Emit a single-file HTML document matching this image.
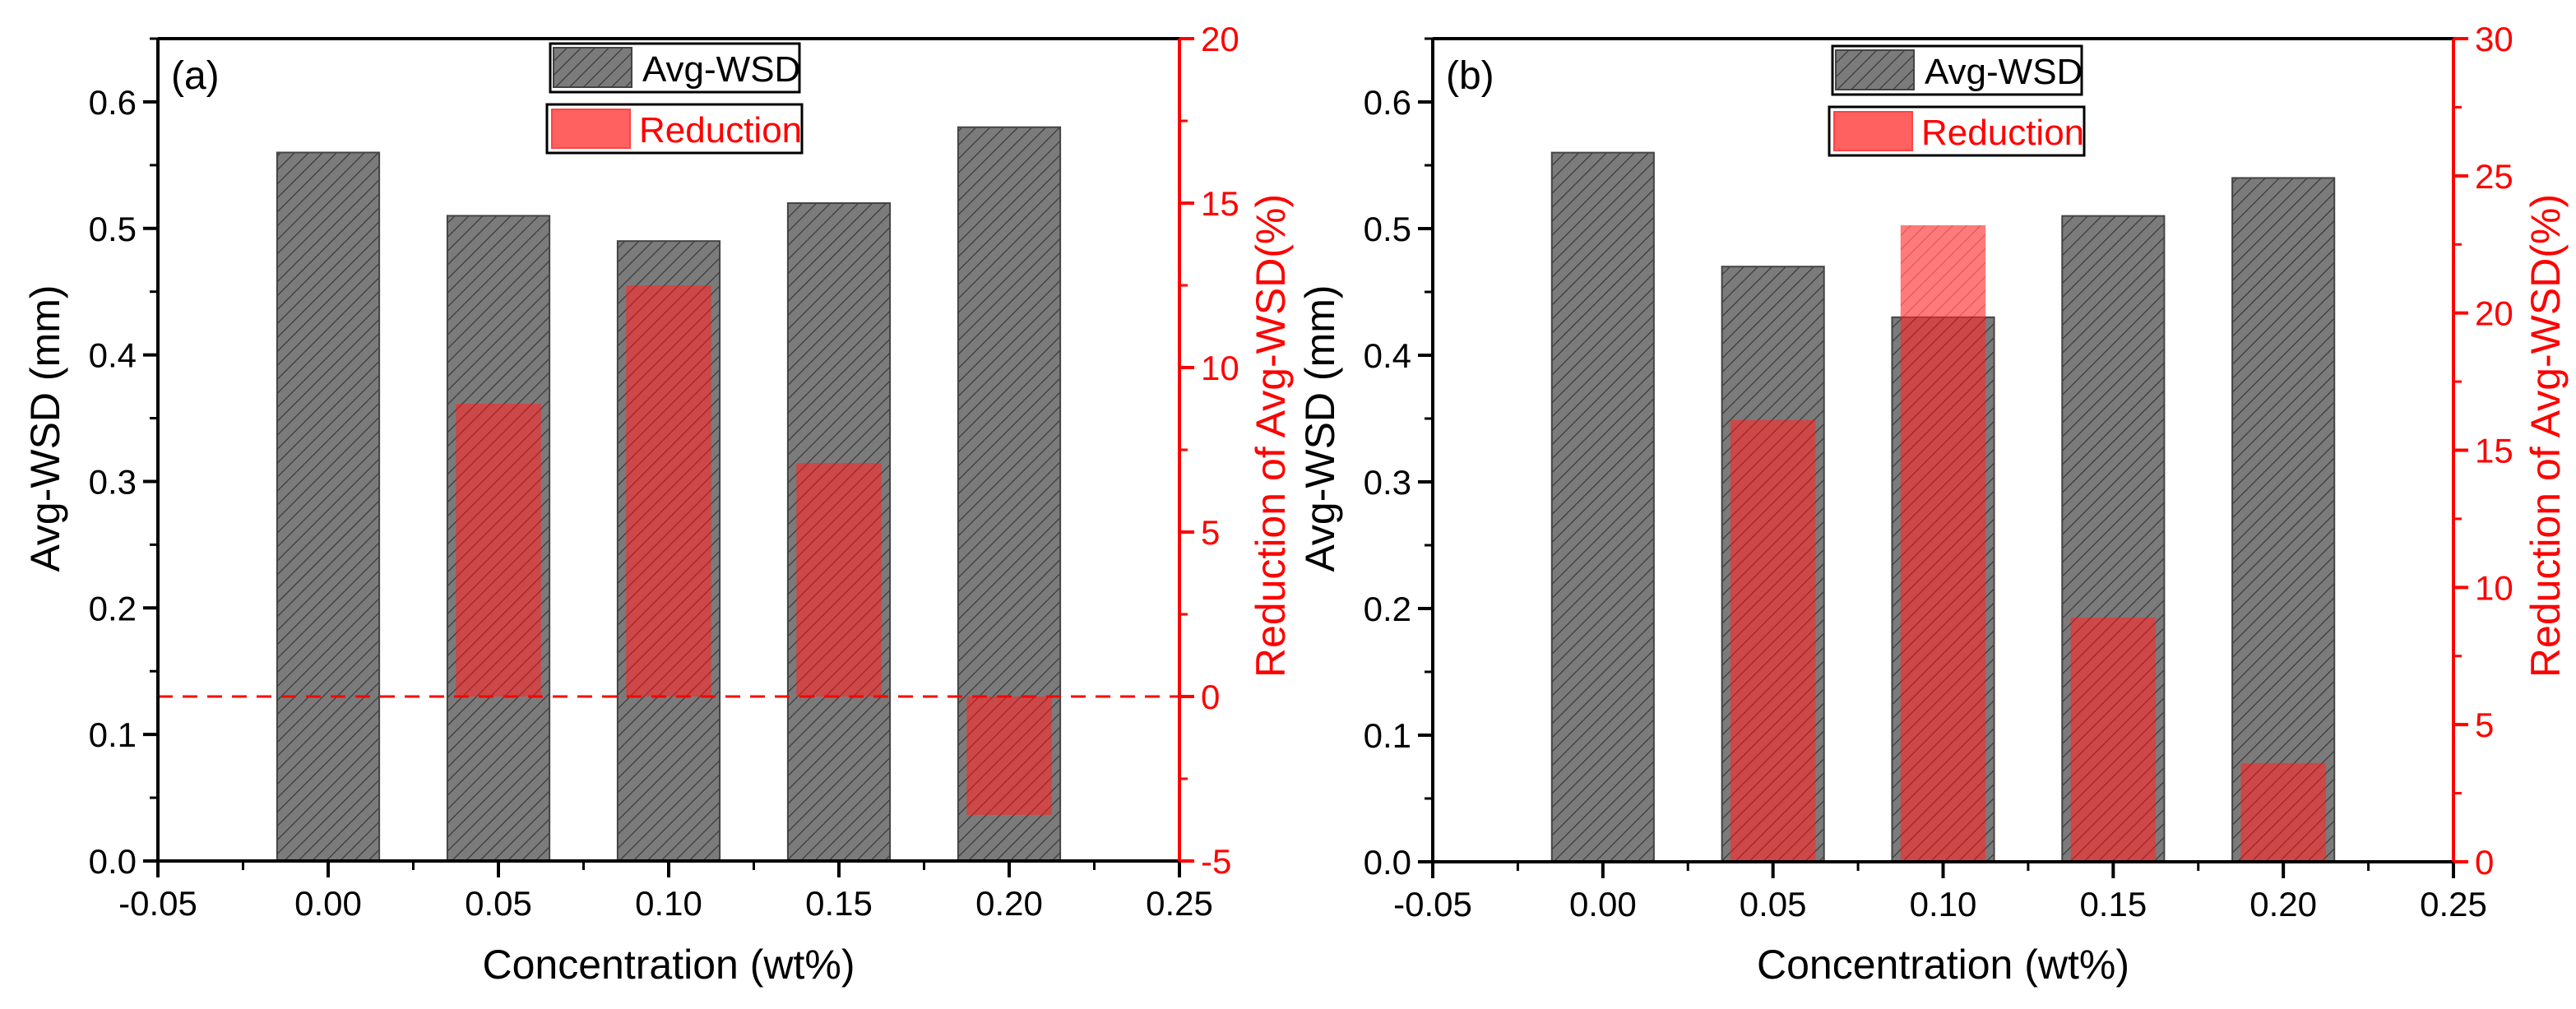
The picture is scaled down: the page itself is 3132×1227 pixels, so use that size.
<!DOCTYPE html>
<html><head><meta charset="utf-8">
<style>
html,body{margin:0;padding:0;background:#fff;}
svg{display:block;font-family:"Liberation Sans",Arial,sans-serif;}
</style></head>
<body>
<svg id="chart" width="3132" height="1227" viewBox="0 0 3132 1227" xmlns="http://www.w3.org/2000/svg">
<defs>
<pattern id="hatch" patternUnits="userSpaceOnUse" width="12" height="12" patternTransform="rotate(45)">
<rect width="12" height="12" fill="#7b7b7b"/>
<line x1="0" y1="0" x2="0" y2="12" stroke="#3a3a3a" stroke-width="2.5"/>
</pattern>
<pattern id="hatchR" patternUnits="userSpaceOnUse" width="12" height="12" patternTransform="rotate(45)">
<rect width="12" height="12" fill="rgba(255,40,40,0.62)"/>
<line x1="0" y1="0" x2="0" y2="12" stroke="rgba(120,0,0,0.25)" stroke-width="2.5"/>
</pattern>
</defs>
</svg>
<script>
const categories = [0.00, 0.05, 0.10, 0.15, 0.20];
const wsdA = [0.56, 0.51, 0.49, 0.52, 0.58];
const redA = [null, 8.9, 12.5, 7.1, -3.6];
const wsdB = [0.56, 0.47, 0.43, 0.51, 0.54];
const redB = [null, 16.1, 23.2, 8.9, 3.6];
const xTicks = ["-0.05","0.00","0.05","0.10","0.15","0.20","0.25"];
const yTicks = ["0.0","0.1","0.2","0.3","0.4","0.5","0.6"];
const rTicksA = ["-5","0","5","10","15","20"];
const rTicksB = ["0","5","10","15","20","25","30"];

const NS = "http://www.w3.org/2000/svg";
const svg = document.getElementById('chart');
function mk(tag, attrs, parent, text){
  const e = document.createElementNS(NS, tag);
  for (const k in attrs) e.setAttribute(k, attrs[k]);
  if (text !== undefined) e.textContent = text;
  (parent||svg).appendChild(e);
  return e;
}

function panel(o){
  const g = mk('g', {});
  
  
  const x = v => o.x0 + (v + 0.05) / 0.30 * (o.x1 - o.x0);
  const y = v => o.yb - v / 0.65 * (o.yb - o.yt);
  const yr = v => o.yb - (v - o.rmin) / (o.rmax - o.rmin) * (o.yb - o.yt);
  // gray bars
  categories.forEach((c, i) => {
    const r = mk('rect', {x: x(c - 0.015), y: y(o.wsd[i]), width: x(0.015) - x(-0.015), height: o.yb - y(o.wsd[i]), fill: 'url(#hatch)', stroke: '#444', 'stroke-width': 2}, g);
    
    
  });
  // red bars
  categories.forEach((c, i) => {
    const v = o.red[i];
    if (v === null) return;
    const top = Math.min(yr(v), yr(0)), bot = Math.max(yr(v), yr(0));
    const r = mk('rect', {x: x(c - 0.0125), y: top, width: x(0.0125) - x(-0.0125), height: bot - top, fill: 'url(#hatchR)'}, g);
    
    
  });
  if (o.dash) {
    const d = mk('line', {x1: o.x0, x2: o.x1, y1: yr(0), y2: yr(0), stroke: '#f00', 'stroke-width': 3, 'stroke-dasharray': '18,12'}, g);
    
    
  }
  // axes
  mk('line', {x1: o.x0, x2: o.x1, y1: o.yt, y2: o.yt, stroke: '#000', 'stroke-width': 4}, g);
  mk('line', {x1: o.x0 - 18, x2: o.x1, y1: o.yb, y2: o.yb, stroke: '#000', 'stroke-width': 4}, g);
  mk('line', {x1: o.x0, x2: o.x0, y1: o.yt, y2: o.yb + 20, stroke: '#000', 'stroke-width': 4}, g);
  mk('line', {x1: o.x1, x2: o.x1, y1: o.yt, y2: o.yb, stroke: '#f00', 'stroke-width': 4}, g);
  // x ticks
  xTicks.forEach((t, i) => {
    const v = -0.05 + i * 0.05, px = x(v);
    mk('line', {x1: px, x2: px, y1: o.yb, y2: o.yb + 20, stroke: '#000', 'stroke-width': 4}, g);
    if (i < xTicks.length - 1) { const m = x(v + 0.025); mk('line', {x1: m, x2: m, y1: o.yb, y2: o.yb + 11, stroke: '#000', 'stroke-width': 3}, g); }
    const tl = mk('text', {x: px, y: o.yb + 66, 'font-size': 42, 'text-anchor': 'middle', fill: '#000'}, g, t);
    
    
  });
  // left y ticks
  yTicks.forEach((t, i) => {
    const v = i * 0.1, py = y(v);
    mk('line', {x1: o.x0 - 18, x2: o.x0, y1: py, y2: py, stroke: '#000', 'stroke-width': 4}, g);
    const m = y(v + 0.05); mk('line', {x1: o.x0 - 10, x2: o.x0, y1: m, y2: m, stroke: '#000', 'stroke-width': 3}, g);
    const tl = mk('text', {x: o.x0 - 26, y: py + 15, 'font-size': 42, 'text-anchor': 'end', fill: '#000'}, g, t);
    
    
  });
  // right ticks
  o.rt.forEach((t, i) => {
    const v = parseFloat(t), py = yr(v);
    mk('line', {x1: o.x1, x2: o.x1 + 18, y1: py, y2: py, stroke: '#f00', 'stroke-width': 4}, g);
    if (i < o.rt.length - 1) { const m = yr(v + 2.5); mk('line', {x1: o.x1, x2: o.x1 + 10, y1: m, y2: m, stroke: '#f00', 'stroke-width': 3}, g); }
    const tl = mk('text', {x: o.x1 + 26, y: py + 15, 'font-size': 42, fill: '#f00'}, g, t);
    
    
  });
  // titles
  const xt = mk('text', {x: (o.x0 + o.x1) / 2, y: 1190, 'font-size': 50, 'text-anchor': 'middle', fill: '#000'}, g, 'Concentration (wt%)');
  
  
  const yt = mk('text', {x: 0, y: 0, 'font-size': 50, 'text-anchor': 'middle', fill: '#000', transform: `translate(${o.ylx},521) rotate(-90)`}, g, 'Avg-WSD (mm)');
  
  
  const rt = mk('text', {x: 0, y: 0, 'font-size': 50, 'text-anchor': 'middle', fill: '#f00', transform: `translate(${o.yrx},530) rotate(-90)`}, g, 'Reduction of Avg-WSD(%)');
  
  
  const pl = mk('text', {x: o.x0 + 16, y: 108, 'font-size': 48, fill: '#000'}, g, o.label);
  
  
  // legend
  const L = o.lx;
  const l1 = mk('g', {}, g);
  
  
  mk('rect', {x: L, y: o.ly, width: 303, height: 59, fill: '#fff', stroke: '#000', 'stroke-width': 3}, l1);
  mk('rect', {x: L + 4, y: o.ly + 5, width: 95, height: 48, fill: 'url(#hatch)', stroke: '#444', 'stroke-width': 2}, l1);
  mk('text', {x: L + 112, y: o.ly + 46, 'font-size': 44, fill: '#000'}, l1, 'Avg-WSD');
  const l2 = mk('g', {}, g);
  
  
  mk('rect', {x: L - 4, y: o.ly + 74, width: 310, height: 59, fill: '#fff', stroke: '#000', 'stroke-width': 3}, l2);
  mk('rect', {x: L + 2, y: o.ly + 80, width: 95, height: 47, fill: '#ff6060', stroke: '#f44', 'stroke-width': 2}, l2);
  mk('text', {x: L + 108, y: o.ly + 120, 'font-size': 44, fill: '#f00'}, l2, 'Reduction');
}

panel({name: 'panel-a', label: '(a)', x0: 192, x1: 1434, yt: 47, yb: 1047, rmin: -5, rmax: 20, wsd: wsdA, red: redA, rt: rTicksA, dash: true, ylx: 72, yrx: 1562, lx: 669, ly: 53});
panel({name: 'panel-b', label: '(b)', x0: 1742, x1: 2983, yt: 47, yb: 1048, rmin: 0, rmax: 30, wsd: wsdB, red: redB, rt: rTicksB, dash: false, ylx: 1622, yrx: 3112, lx: 2228, ly: 56});
</script>
</body></html>
